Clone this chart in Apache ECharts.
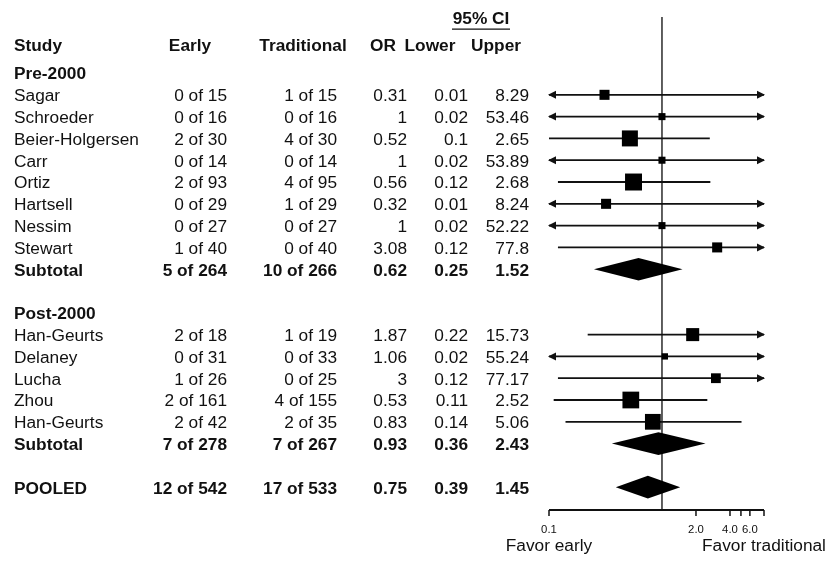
<!DOCTYPE html>
<html><head><meta charset="utf-8">
<script src="https://cdn.jsdelivr.net/npm/echarts@6/dist/echarts.min.js"></script>
<style>html,body{margin:0;padding:0;background:#fff}#c{width:828px;height:562px}</style>
</head><body><div id="c"></div>
<script>
// ---------- data ----------
const studyNames = ['Sagar','Schroeder','Beier-Holgersen','Carr','Ortiz','Hartsell','Nessim','Stewart',
                    'Han-Geurts','Delaney','Lucha','Zhou','Han-Geurts'];
const studyGroup = [0,0,0,0,0,0,0,0, 1,1,1,1,1];
const earlyEvents = [0,0,2,0,2,0,0,1, 2,0,1,2,2];
const earlyTotals = [15,16,30,14,93,29,27,40, 18,31,26,161,42];
const tradEvents  = [1,0,4,0,4,1,0,0, 1,0,0,4,2];
const tradTotals  = [15,16,30,14,95,29,27,40, 19,33,25,155,35];
const oddsRatios  = [0.31,1,0.52,1,0.56,0.32,1,3.08, 1.87,1.06,3,0.53,0.83];
const ciLower     = [0.01,0.02,0.1,0.02,0.12,0.01,0.02,0.12, 0.22,0.02,0.12,0.11,0.14];
const ciUpper     = [8.29,53.46,2.65,53.89,2.68,8.24,52.22,77.8, 15.73,55.24,77.17,2.52,5.06];
const studyWeights = [6.3,3.1,16,3.1,18,6.3,3.1,6.3, 10.6,2.5,6,17.5,15.5]; // estimated % weights

const groupNames = ['Pre-2000','Post-2000'];
const subEarlyEvents = [5,7], subEarlyTotals = [264,278];
const subTradEvents = [10,7], subTradTotals = [266,267];
const subOR = [0.62,0.93], subLower = [0.25,0.36], subUpper = [1.52,2.43];

const pooledName = 'POOLED';
const pooledEarly = [12,542], pooledTrad = [17,533];
const pooledOR = 0.75, pooledLower = 0.39, pooledUpper = 1.45;

const headers = ['Study','Early','Traditional','OR','Lower','Upper'];
const ciHeader = '95% CI';
const axisTickValues = [0.1,2,4,5,6,8];
const axisLabelValues = [0.1,2,4,6];
const axisLabelTexts = ['0.1','2.0','4.0','6.0'];
const favorLabels = ['Favor early','Favor traditional'];

// ---------- layout ----------
const X_MIN = 0.1, X_MAX = 8, Y_MIN = -2.57, Y_MAX = 20;
const colX = [14, 227, 337, 407, 468, 529];
const colAlign = ['left','right','right','right','right','right'];
const headX = [14, 190, 303, 383, 430, 496];
const headAlign = ['left','center','center','center','center','center'];
const HEADER_ROW = -1.3, CI_ROW = -2.43;
const TEXT_DY = 2;
const FONT = '"Liberation Sans", Arial, sans-serif';
const INK = '#111';

// ---------- build rows ----------
const fmt = (e,n) => e + ' of ' + n;
const rows = [];
groupNames.forEach((g, gi) => {
  rows.push({kind:'group', cells:[g], bold:true});
  studyNames.forEach((n, i) => {
    if (studyGroup[i] === gi) rows.push({kind:'study', i, bold:false,
      cells:[n, fmt(earlyEvents[i],earlyTotals[i]), fmt(tradEvents[i],tradTotals[i]),
             String(oddsRatios[i]), String(ciLower[i]), String(ciUpper[i])]});
  });
  rows.push({kind:'subtotal', gi, bold:true,
    cells:['Subtotal', fmt(subEarlyEvents[gi],subEarlyTotals[gi]), fmt(subTradEvents[gi],subTradTotals[gi]),
           String(subOR[gi]), String(subLower[gi]), String(subUpper[gi])]});
  rows.push({kind:'blank', cells:[]});
});
rows.push({kind:'pooled', bold:true,
  cells:[pooledName, fmt(pooledEarly[0],pooledEarly[1]), fmt(pooledTrad[0],pooledTrad[1]),
         String(pooledOR), String(pooledLower), String(pooledUpper)]});

const studyData = [], diamondData = [];
rows.forEach((r, ri) => {
  if (r.kind === 'study') studyData.push([oddsRatios[r.i], ri, ciLower[r.i], ciUpper[r.i], studyWeights[r.i]]);
  if (r.kind === 'subtotal') diamondData.push([subOR[r.gi], ri, subLower[r.gi], subUpper[r.gi]]);
  if (r.kind === 'pooled') diamondData.push([pooledOR, ri, pooledLower, pooledUpper]);
});

function textEl(x, y, txt, align, bold, size) {
  return {type:'text', x:x, y:y, scaleX:1.08,
    style:{text:txt, fill:INK, font:(bold?'bold ':'') + size + 'px ' + FONT,
           textAlign:align, textVerticalAlign:'middle'}};
}

const chart = echarts.init(document.getElementById('c'), null, {renderer:'canvas'});
chart.setOption({
  backgroundColor:'#fff',
  animation:false,
  grid:{left:549, right:64, top:17, bottom:53},
  xAxis:{type:'log', logBase:10, min:X_MIN, max:X_MAX, show:false},
  yAxis:{type:'value', inverse:true, min:Y_MIN, max:Y_MAX, show:false},
  series:[
    { // reference line at OR = 1
      type:'custom', clip:false, encode:{x:0,y:1}, data:[[1, Y_MIN]],
      renderItem:(p, api) => {
        const a = api.coord([1, Y_MIN]), b = api.coord([1, Y_MAX]);
        return {type:'line', shape:{x1:a[0],y1:a[1],x2:b[0],y2:b[1]}, style:{stroke:'#444', lineWidth:1.7}};
      }
    },
    { // x axis
      type:'custom', clip:false, encode:{x:0,y:1}, data:[[1, Y_MAX]],
      renderItem:(p, api) => {
        const ch = [];
        const a = api.coord([X_MIN, Y_MAX]), b = api.coord([X_MAX, Y_MAX]);
        ch.push({type:'line', shape:{x1:a[0],y1:a[1]+1,x2:b[0],y2:b[1]+1}, style:{stroke:INK, lineWidth:1.8}});
        axisTickValues.forEach(v => {
          const c = api.coord([v, Y_MAX]);
          ch.push({type:'line', shape:{x1:c[0],y1:c[1]+1,x2:c[0],y2:c[1]+7}, style:{stroke:INK, lineWidth:1.5}});
        });
        axisLabelValues.forEach((v, k) => {
          const c = api.coord([v, Y_MAX]);
          ch.push(textEl(c[0], c[1] + 21, axisLabelTexts[k], 'center', false, 10.5));
        });
        ch.push(textEl(a[0], a[1] + 38, favorLabels[0], 'center', false, 16));
        ch.push(textEl(b[0], b[1] + 38, favorLabels[1], 'center', false, 16));
        return {type:'group', children:ch};
      }
    },
    { // study CIs and weighted squares
      type:'custom', clip:false, encode:{x:0,y:1}, data:studyData,
      renderItem:(p, api) => {
        const or = api.value(0), row = api.value(1), lo = api.value(2), up = api.value(3), w = api.value(4);
        const p0 = api.coord([Math.max(lo, X_MIN), row]);
        const p1 = api.coord([Math.min(up, X_MAX), row]);
        const pc = api.coord([or, row]);
        const ch = [{type:'line', shape:{x1:p0[0],y1:p0[1],x2:p1[0],y2:p1[1]}, style:{stroke:INK, lineWidth:1.8}}];
        if (lo < X_MIN) ch.push({type:'polygon', shape:{points:[[p0[0]-1,p0[1]],[p0[0]+7,p0[1]-4],[p0[0]+7,p0[1]+4]]}, style:{fill:INK}});
        if (up > X_MAX) ch.push({type:'polygon', shape:{points:[[p1[0]+1,p1[1]],[p1[0]-7,p1[1]-4],[p1[0]-7,p1[1]+4]]}, style:{fill:INK}});
        const s = 4 * Math.sqrt(w);
        ch.push({type:'rect', shape:{x:pc[0]-s/2, y:pc[1]-s/2, width:s, height:s}, style:{fill:'#000'}});
        return {type:'group', children:ch};
      }
    },
    { // subtotal and pooled diamonds
      type:'custom', clip:false, encode:{x:0,y:1}, data:diamondData,
      renderItem:(p, api) => {
        const or = api.value(0), row = api.value(1), lo = api.value(2), up = api.value(3);
        const top = api.coord([or, row - 0.52]), bot = api.coord([or, row + 0.52]);
        const l = api.coord([lo, row]), r = api.coord([up, row]);
        return {type:'polygon', shape:{points:[[l[0],l[1]],[top[0],top[1]],[r[0],r[1]],[bot[0],bot[1]]]}, style:{fill:'#000'}};
      }
    },
    { // table text
      type:'custom', clip:false, encode:{x:0,y:1}, data:rows.map((r, ri) => [1, ri]),
      renderItem:(p, api) => {
        const r = rows[p.dataIndex];
        const y = api.coord([1, api.value(1)])[1] + TEXT_DY;
        const ch = r.cells.map((t, k) => textEl(colX[k], y, t, colAlign[k], r.bold, 16));
        return {type:'group', children:ch};
      }
    },
    { // header text
      type:'custom', clip:false, encode:{x:0,y:1}, data:[[1, HEADER_ROW]],
      renderItem:(p, api) => {
        const y = api.coord([1, HEADER_ROW])[1] + TEXT_DY;
        const yc = api.coord([1, CI_ROW])[1];
        const ch = headers.map((t, k) => textEl(headX[k], y, t, headAlign[k], true, 16));
        ch.push(textEl(481, yc, ciHeader, 'center', true, 16));
        ch.push({type:'line', shape:{x1:452, y1:yc+9, x2:510, y2:yc+9}, style:{stroke:INK, lineWidth:1.3}});
        return {type:'group', children:ch};
      }
    }
  ]
});
</script></body></html>
